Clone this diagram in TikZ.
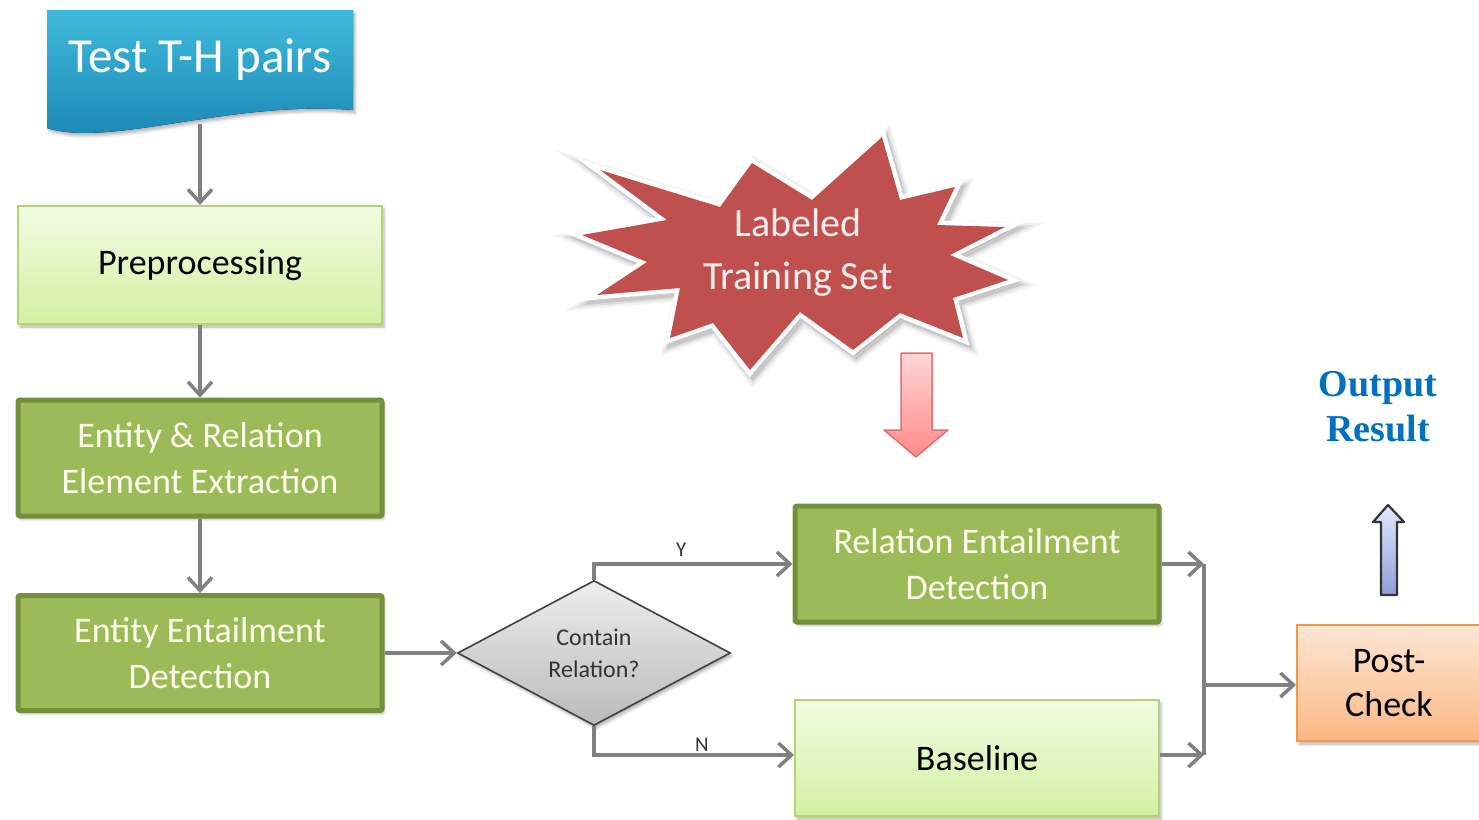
\documentclass[tikz,border=0pt]{standalone}
\usepackage{fontspec}
\setmainfont{Carlito}
\newfontfamily\resultfont{Liberation Serif}
\usetikzlibrary{arrows.meta,shapes.geometric,shadows.blur,calc}

\definecolor{flowgray}{RGB}{128,128,128}
\definecolor{leafgreen}{RGB}{155,187,89}
\definecolor{leafedge}{RGB}{116,144,60}
\definecolor{paletop}{RGB}{242,251,226}
\definecolor{palebot}{RGB}{212,240,162}
\definecolor{paleedge}{RGB}{178,212,118}
\definecolor{doctop}{RGB}{64,186,220}
\definecolor{docbot}{RGB}{24,132,178}
\definecolor{burst}{RGB}{192,80,77}
\definecolor{burstink}{RGB}{252,236,236}
\definecolor{peachtop}{RGB}{253,230,212}
\definecolor{peachbot}{RGB}{250,184,132}
\definecolor{peachedge}{RGB}{247,150,70}
\definecolor{pinktop}{RGB}{255,214,214}
\definecolor{pinkbot}{RGB}{255,138,138}
\definecolor{pinkedge}{RGB}{222,112,112}
\definecolor{lavtop}{RGB}{224,234,252}
\definecolor{lavbot}{RGB}{146,156,218}
\definecolor{resultblue}{RGB}{0,112,192}
\definecolor{creamtext}{RGB}{255,255,236}

\tikzset{
  softshadow/.style={blur shadow={shadow xshift=2pt, shadow yshift=-3pt,
      shadow blur radius=3pt, shadow opacity=30}},
  darkbox/.style={rectangle, draw=leafedge, line width=5pt, fill=leafgreen,
      rounded corners=2pt, minimum width=364, minimum height=116,
      text=creamtext, align=center, font=\fontsize{36}{46}\selectfont, softshadow},
  palebox/.style={rectangle, draw=paleedge, line width=2pt,
      top color=paletop, bottom color=palebot, minimum width=364,
      minimum height=116, text=black, align=center,
      font=\fontsize{36}{46}\selectfont, softshadow},
  conn/.style={draw=flowgray, line width=3.5pt,
      -{Straight Barb[length=13pt, width=24pt, line width=3.5pt]}},
  plainline/.style={draw=flowgray, line width=3.5pt},
  flowlabel/.style={font=\fontsize{21}{22}\selectfont, text=black!80, inner sep=2pt},
}

% outline of the explosion shape
\def\burstpath{(600,170) -- (720,207) -- (752,163) -- (812,200) -- (882,137) -- (900,200)
  -- (955,187) -- (937,225) -- (1005,227) -- (950,255) -- (1008,280) -- (953,298)
  -- (963,338) -- (900,313) -- (853,350) -- (800,312) -- (750,370) -- (713,323)
  -- (670,338) -- (680,288) -- (597,295) -- (647,262) -- (582,235) -- (667,220) -- cycle}

\begin{document}
\begin{tikzpicture}[x=1pt, y=-1pt]
\useasboundingbox (0,0) rectangle (1479,819);

% input document shape with wavy bottom
\fill[top color=doctop, bottom color=docbot, softshadow]
  (47,10) -- (353,10) -- (353,110)
  .. controls (230,100) and (110,148) .. (47,128) -- cycle;
\node[text=white, font=\fontsize{49}{52}\selectfont] (test) at (200,60) {Test T-H pairs};
\coordinate (testb) at (200,124);

% main pipeline on the left
\node[palebox, minimum width=364, minimum height=118] (pre) at (200,265) {Preprocessing};
\node[darkbox] (ext) at (200,458) {Entity \& Relation\\Element Extraction};
\node[darkbox, minimum height=115] (ent) at (200,653) {Entity Entailment\\Detection};

% decision
\node[diamond, draw=black!75, line width=1.6pt, top color=black!7, bottom color=black!27,
      minimum width=273, minimum height=145, inner sep=0pt, shape aspect=1.88,
      align=center, text=black!80, font=\fontsize{24}{32}\selectfont, softshadow]
  (dia) at (594,653) {Contain\\Relation?};

% branches
\node[darkbox] (rel) at (977,564) {Relation Entailment\\Detection};
\node[palebox] (base) at (977,758) {Baseline};

% post check
\node[rectangle, draw=peachedge, line width=2pt, top color=peachtop, bottom color=peachbot,
      minimum width=184, minimum height=116, align=center, text=black,
      font=\fontsize{36}{44}\selectfont, softshadow]
  (post) at (1389,683) {Post-\\Check};

% labeled training set burst: soft shadow, white rim, red body
\begin{scope}[shift={(3,4)}]
  \draw[black, fill=black, opacity=0.05, line width=18pt, line join=miter] \burstpath;
  \draw[black, fill=black, opacity=0.08, line width=13pt, line join=miter] \burstpath;
  \draw[black, fill=black, opacity=0.10, line width=9pt, line join=miter] \burstpath;
\end{scope}
\draw[fill=burst, draw=white, line width=9pt, line join=miter] \burstpath;
\fill[burst] \burstpath;
\node[align=center, text=burstink, font=\fontsize{40}{53}\selectfont] (train) at (798,253)
  {Labeled\\Training Set};

% pink block arrow feeding the relation detector
\draw[pinkedge, line width=1.5pt, top color=pinktop, bottom color=pinkbot, line join=round]
  (901,353) -- (932,353) -- (932,430) -- (948,430) -- (916,457) -- (884,430)
  -- (901,430) -- cycle;

% output block arrow
\draw[black!80, line width=2.2pt, top color=lavtop, bottom color=lavbot, line join=round]
  (1381,595) -- (1397,595) -- (1397,522) -- (1404,522) -- (1388,505) -- (1373,522)
  -- (1381,522) -- cycle;
\node[align=center, text=resultblue, font=\resultfont\bfseries\fontsize{38}{45}\selectfont]
  (out) at (1378,407) {Output\\Result};

% connectors
\coordinate (join) at (1204,685);
\draw[conn] (testb) -- (pre.north);
\draw[conn] (pre.south) -- (ext.north);
\draw[conn] (ext.south) -- (ent.north);
\draw[conn] (ent.east) -- (dia.west);
\draw[conn] (dia.north) |- node[flowlabel, pos=0.72, above, inner sep=6pt] {Y} (rel.west);
\draw[conn] (dia.south) |- node[flowlabel, pos=0.77, above] {N} ($(base.west)+(0,-3)$);
\draw[conn] (rel.east) -- (rel.east -| join);
\draw[conn] ($(base.east)+(0,-3)$) -- ($(base.east -| join)+(0,-3)$);
\draw[plainline] (rel.east -| join) -- ($(base.east -| join)+(0,-3)$);
\draw[conn] (join) -- (post.west |- join);
\end{tikzpicture}
\end{document}
